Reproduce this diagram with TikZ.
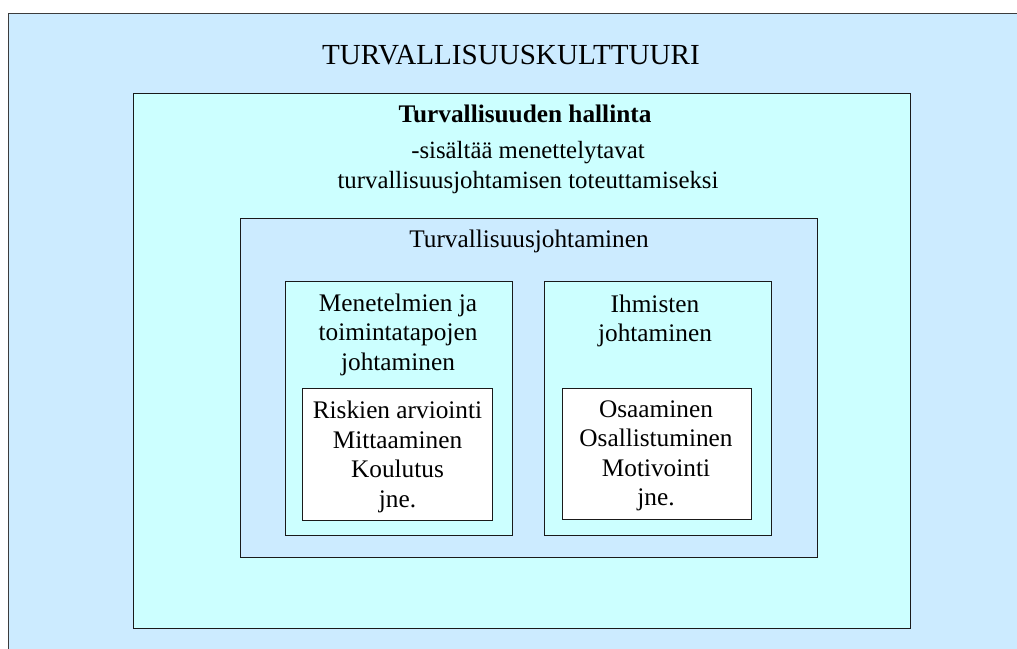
\documentclass[tikz,border=0pt]{standalone}
\usepackage{fontspec}
\setmainfont{Liberation Serif}
\definecolor{paleblue}{HTML}{CCEBFF}
\definecolor{palecyan}{HTML}{CCFFFF}
\definecolor{frame}{HTML}{1A1A1A}
\begin{document}
\begin{tikzpicture}[x=1pt,y=-1pt,
  box/.style={draw=frame,line width=1.35pt,anchor=north west,inner sep=0pt},
  lbl/.style={inner sep=0pt,anchor=base,align=center,font=\fontsize{25.3}{29.5}\selectfont},
  ]
\clip (0,0) rectangle (1017,648);
\fill[white] (0,0) rectangle (1017,648);
% outer frame
\node[box,draw=frame!85,fill=paleblue,minimum width=1040pt,minimum height=660pt] (culture) at (8,13) {};
\node[lbl,font=\fontsize{29.1}{34}\selectfont] (tculture) at (511,64) {TURVALLISUUSKULTTUURI};
% management box
\node[box,fill=palecyan,minimum width=777pt,minimum height=535pt] (mgmt) at (133,93) {};
\node[lbl,font=\bfseries\fontsize{25.3}{29.5}\selectfont] (tmgmt) at (525,122) {Turvallisuuden hallinta};
\node[lbl,font=\fontsize{24.8}{29.5}\selectfont] (tmgmt2) at (528,188) {-sisältää menettelytavat\\turvallisuusjohtamisen toteuttamiseksi};
% leadership box
\node[box,fill=paleblue,minimum width=577pt,minimum height=339pt] (lead) at (240,218) {};
\node[lbl] (tlead) at (529,247) {Turvallisuusjohtaminen};
% method box
\node[box,fill=palecyan,minimum width=227pt,minimum height=254pt] (meth) at (285,281) {};
\node[lbl] (tmeth) at (398,370) {Menetelmien ja\\toimintatapojen\\johtaminen};
\node[box,fill=white,minimum width=190pt,minimum height=132pt] (methlist) at (302,388) {};
\node[lbl] (tmethlist) at (397.5,507) {Riskien arviointi\\Mittaaminen\\Koulutus\\jne.};
% people box
\node[box,fill=palecyan,minimum width=227pt,minimum height=254pt] (people) at (544,281) {};
\node[lbl] (tpeople) at (655,341.5) {Ihmisten\\johtaminen};
\node[box,fill=white,minimum width=189pt,minimum height=131pt] (peoplelist) at (562,388) {};
\node[lbl] (tpeoplelist) at (656,505.5) {Osaaminen\\Osallistuminen\\Motivointi\\jne.};
\end{tikzpicture}
\end{document}
